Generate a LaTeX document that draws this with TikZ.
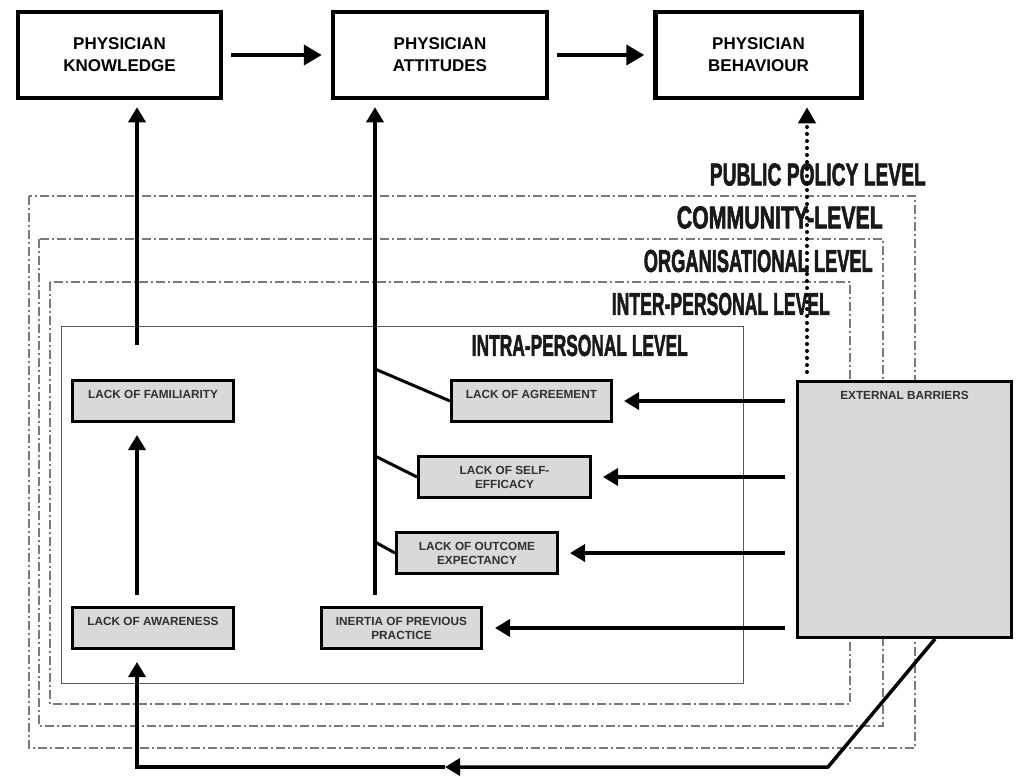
\documentclass[tikz,border=0pt]{standalone}
\usepackage{fontspec}
\usepackage{graphicx}
\setmainfont{Liberation Sans}
\newfontfamily\heavyfont{Liberation Sans}[UprightFont=* Bold, FakeBold=2.5]
\usetikzlibrary{arrows.meta}
\definecolor{boxgray}{HTML}{D9D9D9}
\definecolor{levelgray}{HTML}{7A7A7A}
\definecolor{boxtext}{HTML}{303030}

\begin{document}
\begin{tikzpicture}[x=1pt,y=-1pt,
  topbox/.style={draw=black, line width=4.5pt, inner sep=0pt, align=center,
    font=\fontsize{17}{22}\selectfont\bfseries, minimum height=86pt},
  gbox/.style={draw=black, fill=boxgray, line width=3pt, inner sep=0pt, align=center,
    text=boxtext, font=\fontsize{11.8}{14}\selectfont\bfseries, minimum height=41pt},
  btext/.style={inner sep=0pt, text=boxtext, font=\fontsize{11.8}{14}\selectfont\bfseries},
  levelbox/.style={draw=levelgray, line width=1.5pt, dash pattern=on 9pt off 3pt on 2pt off 3pt},
  intrabox/.style={draw=black!65, line width=1pt},
  lvl/.style={inner sep=0pt, font=\heavyfont, text=black!90},
  bigarrow/.style={line width=4pt, -{Triangle[length=18pt,width=20pt]}},
  arr/.style={line width=3.5pt, -{Triangle[length=15pt,width=17pt]}},
  link/.style={line width=3pt},
  dotarrow/.style={line width=4pt, line cap=round, dash pattern=on 0pt off 7pt,
    -{Triangle[length=16pt,width=17pt]}}
]
\useasboundingbox (0,0) rectangle (1019,776);

% nested levels of influence
\draw[levelbox] (29,196) rectangle (915,748);
\draw[levelbox] (39,239) rectangle (883,726);
\draw[levelbox] (50,282) rectangle (850,704);
\draw[intrabox] (61,326) rectangle (743,683);

% level titles
\node[lvl, anchor=east] (lpub) at (926,174.5) {\resizebox{216pt}{22pt}{PUBLIC POLICY LEVEL}};
\node[lvl, anchor=east] (lcom) at (883,217.5) {\resizebox{206pt}{22pt}{COMMUNITY-LEVEL}};
\node[lvl, anchor=east] (lorg) at (873,261) {\resizebox{229pt}{22pt}{ORGANISATIONAL LEVEL}};
\node[lvl, anchor=east] (lint) at (830,304) {\resizebox{218pt}{22pt}{INTER-PERSONAL LEVEL}};
\node[lvl, anchor=east] (lintra) at (688,345.5) {\resizebox{216pt}{21pt}{INTRA-PERSONAL LEVEL}};

% outcome chain
\node[topbox, minimum width=203pt] (know) at (119.5,55) {PHYSICIAN\\KNOWLEDGE};
\node[topbox, minimum width=214pt] (att) at (440,55) {PHYSICIAN\\ATTITUDES};
\node[topbox, minimum width=206pt] (beh) at (758.5,55) {PHYSICIAN\\BEHAVIOUR};
\draw[bigarrow] (know.east) ++(8pt,0) coordinate (k1) -- ([xshift=-9pt]att.west);
\draw[bigarrow] (att.east) ++(8pt,0) coordinate (a1) -- ([xshift=-9pt]beh.west);

% barriers
\node[gbox, minimum width=161pt] (fam) at (153,401) {};
\node[btext] (famt) at ([yshift=-15pt]fam.north) {LACK OF FAMILIARITY};
\node[gbox, minimum width=161pt] (aw) at (153,628) {};
\node[btext] (awt) at ([yshift=-15pt]aw.north) {LACK OF AWARENESS};
\node[gbox, minimum width=160pt] (agr) at (531.5,401) {};
\node[btext] (agrt) at ([yshift=-15pt]agr.north) {LACK OF AGREEMENT};
\node[gbox, minimum width=172pt] (self) at (504.5,477) {LACK OF SELF-\\EFFICACY};
\node[gbox, minimum width=161pt] (out) at (477,553) {LACK OF OUTCOME\\EXPECTANCY};
\node[gbox, minimum width=160pt] (inert) at (401.5,628) {INERTIA OF PREVIOUS\\PRACTICE};
\node[gbox, minimum width=214pt, minimum height=256pt] (ext) at (904.5,509.5) {};
\node[btext] (extt) at ([yshift=-15pt]ext.north) {EXTERNAL BARRIERS};

% guide columns for the vertical connectors
\coordinate (lx) at (137,0);
\coordinate (ax) at (375,0);
\coordinate (dx) at (807,0);

% awareness -> familiarity -> knowledge
\draw[arr, shorten <=11pt, shorten >=12pt] (aw.north -| lx) -- (fam.south -| lx);
\draw[arr, shorten <=34pt, shorten >=7pt] (fam.north -| lx) -- (know.south -| lx);

% attitude barriers -> attitudes
\coordinate (b1) at (375,369);
\coordinate (b2) at (375,456);
\coordinate (b3) at (375,542);
\draw[arr, shorten <=11pt, shorten >=7pt] (inert.north -| ax) -- (att.south -| ax);
\draw[link] (b1) -- (agr.west);
\draw[link] (b2) -- (self.west);
\draw[link] (b3) -- (out.west);

% external barriers -> individual barriers
\draw[arr, shorten <=11pt, shorten >=11pt] (ext.west |- agr.east) -- (agr.east);
\draw[arr, shorten <=11pt, shorten >=11pt] (ext.west |- self.east) -- (self.east);
\draw[arr, shorten <=11pt, shorten >=11pt] (ext.west |- out.east) -- (out.east);
\draw[arr, shorten <=11pt, shorten >=12pt] (ext.west |- inert.east) -- (inert.east);

% external barriers -> behaviour
\draw[dotarrow, shorten <=8pt, shorten >=7pt] (ext.north -| dx) -- (beh.south -| dx);

% external barriers feeding back to awareness
\coordinate (e1) at (935,639);
\coordinate (e2) at (828,767);
\coordinate (e3) at (445,767);
\coordinate (e4) at (137,767);
\draw[arr, line join=round] (e1) -- (e2) -- (e3);
\draw[arr, line join=miter, shorten >=12pt] (e3) -- (e4) -- (aw.south -| lx);
\end{tikzpicture}
\end{document}
